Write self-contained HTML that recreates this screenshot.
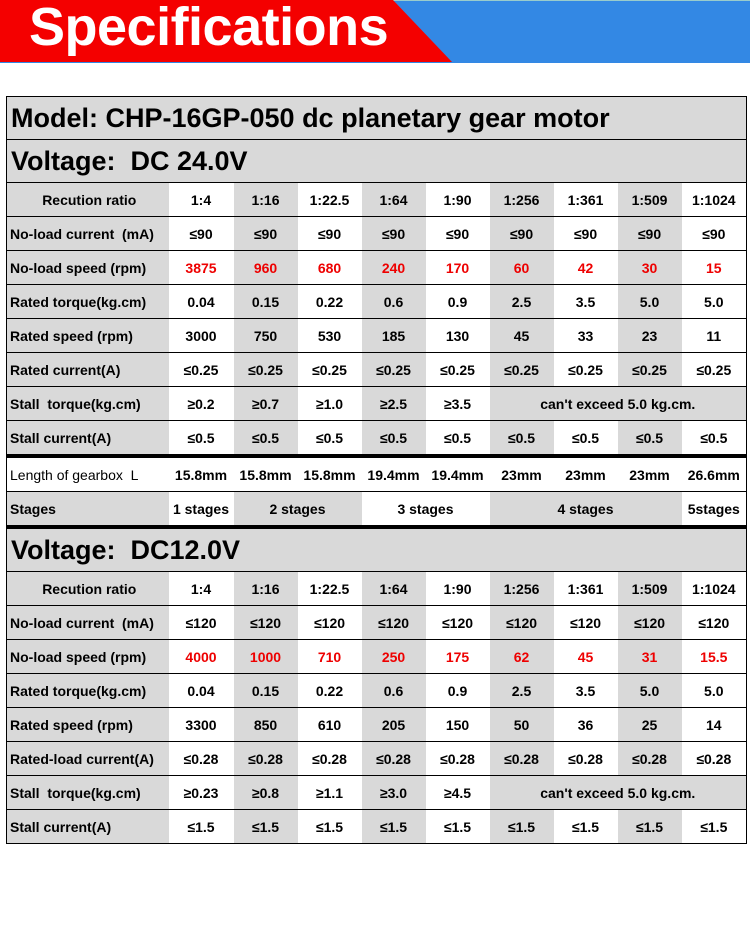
<!DOCTYPE html>
<html><head><meta charset="utf-8"><style>
body{margin:0;width:750px;height:947px;background:#fff;position:relative;overflow:hidden;font-family:"Liberation Sans",Arial,sans-serif}
.hdr{position:absolute;left:0;top:0;width:750px;height:62px;background:#3388e4;border-top:1px solid #9cc}
.band{position:absolute;left:0;top:0;width:750px;height:62px;background:#f40000;clip-path:polygon(0 0,393px 0,452px 62px,0 62px)}
.t{position:absolute;left:29px;top:-4px;font-size:54px;color:#fff;letter-spacing:-0.5px}
table{position:absolute;left:6px;top:96px;border-collapse:collapse;width:740px;table-layout:fixed;border:1px solid #000}
td{padding:0;text-align:center;font-weight:bold;font-size:14px;height:33px;border-top:1px solid #000;white-space:nowrap;background:#fff}
td.l{text-align:left;padding-left:3px;background:#d9d9d9}
.g{background:#d9d9d9}
.big td{font-size:27px;text-align:left;padding-left:4px;background:#d9d9d9;height:42px}
td.v{color:#e00}
.thick td{border-top:4px solid #000}
</style></head><body>
<div class="hdr"></div><div class="band"></div>
<div class="t"><b>Specifications</b></div>
<table>
<colgroup><col style="width:162px"><col style="width:65px"><col style="width:64px"><col style="width:64px"><col style="width:64px"><col style="width:64px"><col style="width:64px"><col style="width:64px"><col style="width:64px"><col style="width:65px"></colgroup>
<tr class="big"><td colspan="10">Model: CHP-16GP-050 dc planetary gear motor</td></tr>
<tr class="big"><td colspan="10">Voltage:&nbsp; DC 24.0V</td></tr>
<tr><td class="l" style="text-align:center">Recution ratio</td><td>1:4</td><td class="g">1:16</td><td>1:22.5</td><td class="g">1:64</td><td>1:90</td><td class="g">1:256</td><td>1:361</td><td class="g">1:509</td><td>1:1024</td></tr>
<tr><td class="l">No-load current &nbsp;(mA)</td><td>≤90</td><td class="g">≤90</td><td>≤90</td><td class="g">≤90</td><td>≤90</td><td class="g">≤90</td><td>≤90</td><td class="g">≤90</td><td>≤90</td></tr>
<tr><td class="l">No-load speed (rpm)</td><td class="v">3875</td><td class="g v">960</td><td class="v">680</td><td class="g v">240</td><td class="v">170</td><td class="g v">60</td><td class="v">42</td><td class="g v">30</td><td class="v">15</td></tr>
<tr><td class="l">Rated torque(kg.cm)</td><td>0.04</td><td class="g">0.15</td><td>0.22</td><td class="g">0.6</td><td>0.9</td><td class="g">2.5</td><td>3.5</td><td class="g">5.0</td><td>5.0</td></tr>
<tr><td class="l">Rated speed (rpm)</td><td>3000</td><td class="g">750</td><td>530</td><td class="g">185</td><td>130</td><td class="g">45</td><td>33</td><td class="g">23</td><td>11</td></tr>
<tr><td class="l">Rated current(A)</td><td>≤0.25</td><td class="g">≤0.25</td><td>≤0.25</td><td class="g">≤0.25</td><td>≤0.25</td><td class="g">≤0.25</td><td>≤0.25</td><td class="g">≤0.25</td><td>≤0.25</td></tr>
<tr><td class="l">Stall &nbsp;torque(kg.cm)</td><td>≥0.2</td><td class="g">≥0.7</td><td>≥1.0</td><td class="g">≥2.5</td><td>≥3.5</td><td class="g" colspan="4">can't exceed 5.0 kg.cm.</td></tr>
<tr><td class="l">Stall current(A)</td><td>≤0.5</td><td class="g">≤0.5</td><td>≤0.5</td><td class="g">≤0.5</td><td>≤0.5</td><td class="g">≤0.5</td><td>≤0.5</td><td class="g">≤0.5</td><td>≤0.5</td></tr>
<tr class="thick"><td class="l" style="background:#fff;font-weight:normal">Length of gearbox &nbsp;L</td><td>15.8mm</td><td>15.8mm</td><td>15.8mm</td><td>19.4mm</td><td>19.4mm</td><td>23mm</td><td>23mm</td><td>23mm</td><td>26.6mm</td></tr>
<tr><td class="l">Stages</td><td>1 stages</td><td class="g" colspan="2">2 stages</td><td colspan="2">3 stages</td><td class="g" colspan="3">4 stages</td><td>5stages</td></tr>
<tr class="big thick"><td colspan="10">Voltage:&nbsp; DC12.0V</td></tr>
<tr><td class="l" style="text-align:center">Recution ratio</td><td>1:4</td><td class="g">1:16</td><td>1:22.5</td><td class="g">1:64</td><td>1:90</td><td class="g">1:256</td><td>1:361</td><td class="g">1:509</td><td>1:1024</td></tr>
<tr><td class="l">No-load current &nbsp;(mA)</td><td>≤120</td><td class="g">≤120</td><td>≤120</td><td class="g">≤120</td><td>≤120</td><td class="g">≤120</td><td>≤120</td><td class="g">≤120</td><td>≤120</td></tr>
<tr><td class="l">No-load speed (rpm)</td><td class="v">4000</td><td class="g v">1000</td><td class="v">710</td><td class="g v">250</td><td class="v">175</td><td class="g v">62</td><td class="v">45</td><td class="g v">31</td><td class="v">15.5</td></tr>
<tr><td class="l">Rated torque(kg.cm)</td><td>0.04</td><td class="g">0.15</td><td>0.22</td><td class="g">0.6</td><td>0.9</td><td class="g">2.5</td><td>3.5</td><td class="g">5.0</td><td>5.0</td></tr>
<tr><td class="l">Rated speed (rpm)</td><td>3300</td><td class="g">850</td><td>610</td><td class="g">205</td><td>150</td><td class="g">50</td><td>36</td><td class="g">25</td><td>14</td></tr>
<tr><td class="l">Rated-load current(A)</td><td>≤0.28</td><td class="g">≤0.28</td><td>≤0.28</td><td class="g">≤0.28</td><td>≤0.28</td><td class="g">≤0.28</td><td>≤0.28</td><td class="g">≤0.28</td><td>≤0.28</td></tr>
<tr><td class="l">Stall &nbsp;torque(kg.cm)</td><td>≥0.23</td><td class="g">≥0.8</td><td>≥1.1</td><td class="g">≥3.0</td><td>≥4.5</td><td class="g" colspan="4">can't exceed 5.0 kg.cm.</td></tr>
<tr><td class="l">Stall current(A)</td><td>≤1.5</td><td class="g">≤1.5</td><td>≤1.5</td><td class="g">≤1.5</td><td>≤1.5</td><td class="g">≤1.5</td><td>≤1.5</td><td class="g">≤1.5</td><td>≤1.5</td></tr>
</table>
</body></html>
